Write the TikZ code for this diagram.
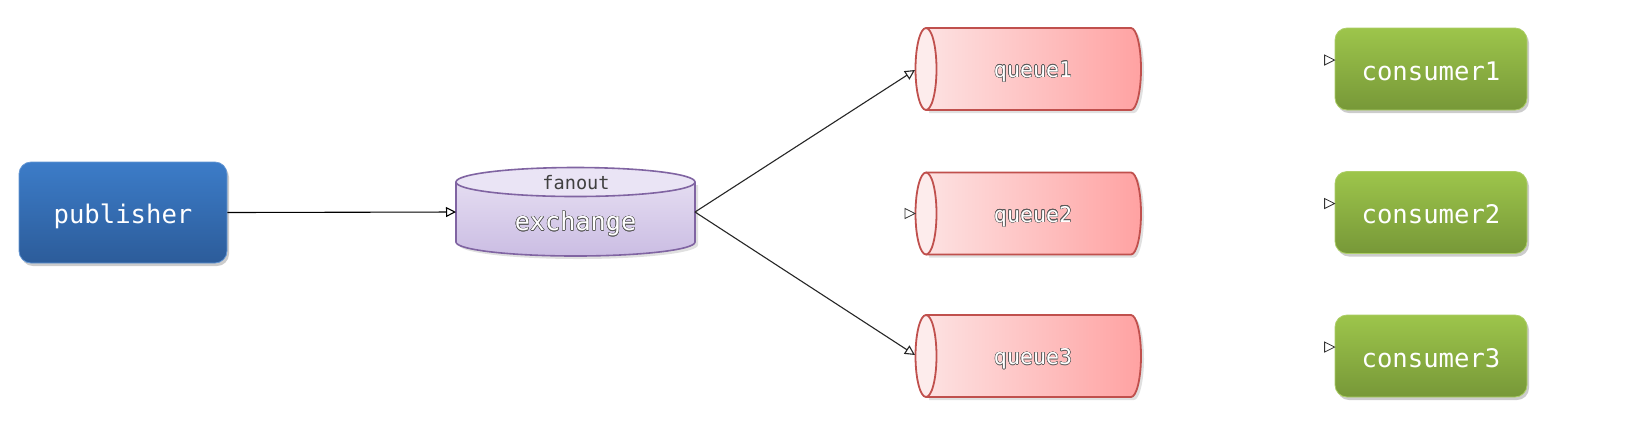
\documentclass[tikz,border=0pt]{standalone}
\usepackage{fontspec}
\newfontfamily\monofont{DejaVu Sans Mono}
\usepackage{contour}
\contourlength{0.25pt}
\usetikzlibrary{arrows.meta,shadows}
\definecolor{pubtop}{HTML}{3C7CC8}
\definecolor{pubbot}{HTML}{2C5C9A}
\definecolor{contop}{HTML}{9DC54B}
\definecolor{conbot}{HTML}{779838}
\definecolor{qleft}{HTML}{FDE2E2}
\definecolor{qright}{HTML}{FFA2A2}
\definecolor{qend}{HTML}{FDECEC}
\definecolor{qborder}{HTML}{C0504D}
\definecolor{extop}{HTML}{E4DCF1}
\definecolor{exbot}{HTML}{CBBDE3}
\definecolor{exlid}{HTML}{EAE4F5}
\definecolor{exborder}{HTML}{8064A2}
\definecolor{fancol}{HTML}{404040}
\tikzset{
  boxshadow/.style={drop shadow={shadow xshift=1pt,shadow yshift=-1.5pt,opacity=0.2,fill=black}},
  pubbox/.style={rounded corners=6pt,minimum width=104pt,minimum height=50.5pt,
    top color=pubtop,bottom color=pubbot,draw=pubtop!80!white,line width=0.4pt,
    text height=11pt,text depth=0pt,
    text=white,font=\monofont\fontsize{12.8}{14}\selectfont,boxshadow},
  conbox/.style={rounded corners=6pt,minimum width=96pt,minimum height=41pt,
    top color=contop,bottom color=conbot,draw=contop!85!white,line width=0.4pt,
    text height=11pt,text depth=0pt,
    text=white,font=\monofont\fontsize{12.8}{14}\selectfont,boxshadow},
  anchorbox/.style={inner sep=0pt,outer sep=0pt},
  outl/.style={text=white,inner sep=0pt},
  link/.style={line width=0.55pt,draw=black!85,-{Triangle[open,length=5pt,width=5pt]}},
  tipmark/.style={draw=black!80,fill=white,line width=0.4pt},
}
\begin{document}
\begin{tikzpicture}[x=0.5pt,y=-0.5pt]
\useasboundingbox[fill=white] (0,0) rectangle (1649,420);

% publisher
\node[pubbox] (pub) at (123,212.5) {publisher};

% exchange cylinder
\fill[black,opacity=0.12] (459,185) -- (459,245) arc[start angle=180,end angle=360,x radius=59.75pt,y radius=7pt] -- (698,185) -- cycle;
\shade[top color=extop,bottom color=exbot] (456,182) -- (456,242) arc[start angle=180,end angle=360,x radius=59.75pt,y radius=7pt] -- (695,182) -- cycle;
\draw[exborder,line width=0.8pt] (456,182) -- (456,242) arc[start angle=180,end angle=360,x radius=59.75pt,y radius=7pt] -- (695,182);
\filldraw[fill=exlid,draw=exborder,line width=0.8pt] (575.5,182) ellipse[x radius=59.75pt,y radius=7.25pt];
\node[anchorbox,minimum width=119.5pt,minimum height=44pt] (ex) at (575.5,212) {};
\node[text=fancol,font=\monofont\fontsize{9.3}{10}\selectfont] (fan) at (576,183) {fanout};
\node[outl,font=\monofont\fontsize{12.6}{14}\selectfont] (exlabel) at (575.5,224) {\contour{black!65}{exchange}};

% queues
\foreach \qn/\cy in {1/69,2/213.5,3/356}{
  \begin{scope}[shift={(0,\cy)}]
    \fill[black,opacity=0.12] (929,-38) -- (1134,-38) .. controls (1139.5,-38) and (1144,-21) .. (1144,3) .. controls (1144,25) and (1139.5,44) .. (1134,44) -- (929,44) -- cycle;
    \shade[left color=qleft,right color=qright] (926,-41) -- (1131,-41) .. controls (1136.5,-41) and (1141,-22.6) .. (1141,0) .. controls (1141,22.6) and (1136.5,41) .. (1131,41) -- (926,41) -- cycle;
    \draw[qborder,line width=0.9pt] (926,-41) -- (1131,-41) .. controls (1136.5,-41) and (1141,-22.6) .. (1141,0) .. controls (1141,22.6) and (1136.5,41) .. (1131,41) -- (926,41);
    \filldraw[fill=qend,draw=qborder,line width=0.9pt] (926,0) ellipse[x radius=5.25pt,y radius=20.5pt];
    \node[anchorbox,minimum width=113pt,minimum height=41pt] (q\qn) at (1028,0) {};
    \node[outl,font=\monofont\fontsize{10.8}{12}\selectfont] (ql\qn) at (1033,3) {\contour{black!65}{queue\qn}};
  \end{scope}
}

% consumers
\node[conbox] (c1) at (1431,69) {consumer1};
\node[conbox] (c2) at (1431,212.5) {consumer2};
\node[conbox] (c3) at (1431,356) {consumer3};

% connectors
\draw[link,draw=black] (pub.east) -- (ex.west);
\draw[link] (ex.east) -- ([yshift=-0.5pt]q1.west);
\draw[link] (ex.east) -- ([yshift=0.5pt]q3.west);

% arrowheads without visible lines
\coordinate (t2) at (q2.west);
\draw[tipmark] (t2) -- ++(-10,-5) -- ++(0,10) -- cycle;
\foreach \c in {c1,c2,c3}{
  \coordinate (t\c) at ([yshift=4.5pt]\c.west);
  \draw[tipmark] (t\c) -- ++(-10,-5) -- ++(0,10) -- cycle;
}
\end{tikzpicture}
\end{document}
